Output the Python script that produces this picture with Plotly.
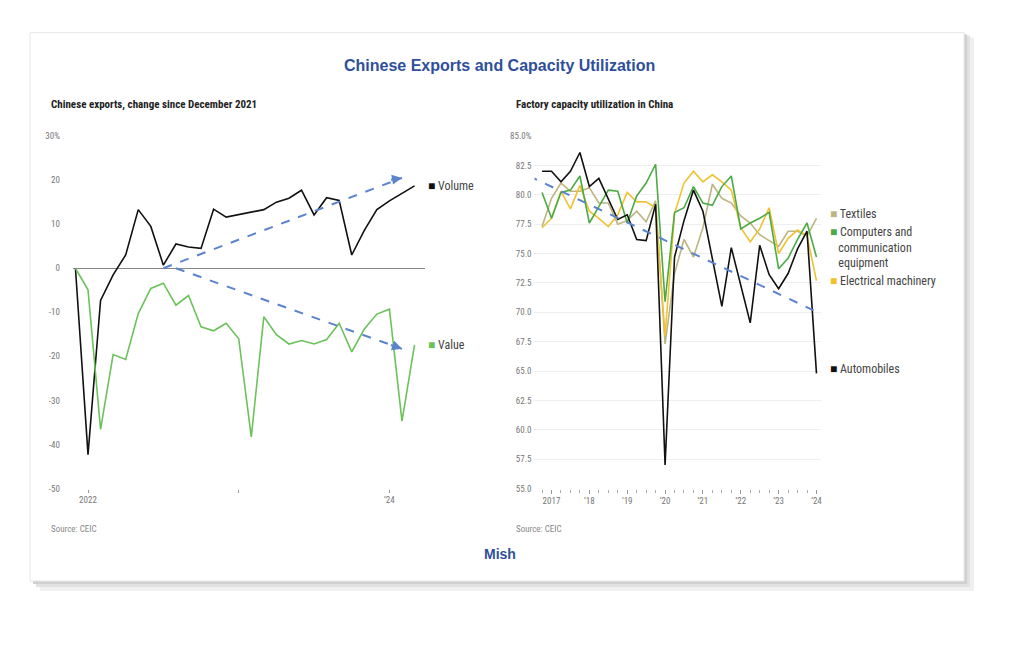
import plotly.graph_objects as go

months = list(range(28))
volume = [0, -42.3, -7.3, -1.5, 3, 13.3, 9.5, 0.7, 5.5, 4.8, 4.5, 13.4, 11.6, 12.2, 12.7, 13.3,
          15, 15.9, 17.7, 12.1, 16, 15.4, 3, 8.6, 13.3, 15.3, 17, 18.7]
value = [0, -4.9, -36.6, -19.6, -20.7, -10.3, -4.6, -3.4, -8.4, -6.2, -13.3, -14.2, -12.5, -16,
         -38.3, -11, -15.1, -17.2, -16.4, -17.2, -16.2, -12.5, -19, -13.8, -10.4, -9.3, -34.7, -17.4]
left_ticks = [1, 13, 25]
left_labels = ["2022", "", "’24"]

quarters = list(range(30))
autos = [82.0, 82.0, 81.1, 82.0, 83.6, 80.7, 81.4, 79.7, 77.9, 78.3, 76.2, 76.1, 79.2, 57.0, 74.7,
         77.8, 80.4, 78.6, 74.7, 70.5, 75.5, 72.4, 69.1, 75.7, 73.2, 72.0, 73.3, 75.4, 76.9, 64.8]
computers = [80.2, 78.0, 80.2, 80.4, 81.6, 77.6, 79.0, 80.4, 80.3, 77.6, 79.9, 81.0, 82.6, 70.9, 78.5,
             78.9, 80.7, 79.3, 79.1, 80.7, 81.6, 77.1, 77.6, 78.0, 78.5, 73.7, 74.6, 76.2, 77.6, 74.7]
electrical = [77.2, 78.0, 80.3, 78.8, 80.8, 78.6, 78.0, 77.3, 78.3, 80.2, 79.4, 79.4, 78.9, 68.0, 78.4,
              81.0, 82.0, 81.1, 81.7, 81.1, 80.4, 77.2, 76.0, 77.1, 78.9, 75.0, 76.3, 77.0, 76.5, 72.7]
textiles = [77.3, 79.7, 81.0, 80.3, 80.3, 80.6, 79.3, 79.3, 77.5, 77.8, 78.6, 77.7, 79.5, 67.3, 73.3,
            76.2, 74.7, 77.2, 80.9, 79.7, 79.3, 78.2, 77.6, 76.6, 76.1, 75.6, 76.9, 76.9, 76.5, 78.0]
right_ticks = [1, 5, 9, 13, 17, 21, 25, 29]
right_labels = ["2017", "’18", "’19", "’20", "’21", "’22", "’23", "’24"]

BLACK = "#111111"
GREEN_L = "#6cc25a"
GREEN = "#4caa45"
YELLOW = "#f0c232"
TAN = "#bdb483"
ARROW = "#5b84cc"

DX, DY = 8, 8  # page offset compensation
def px(x): return (x - DX) / 1024
def py(y): return 1 - (y - DY) / 645

fig = go.Figure()
fig.add_trace(go.Scatter(x=months, y=volume, mode="lines", line=dict(color=BLACK, width=1.6), xaxis="x", yaxis="y"))
fig.add_trace(go.Scatter(x=months, y=value, mode="lines", line=dict(color=GREEN_L, width=1.6), xaxis="x", yaxis="y"))
fig.add_trace(go.Scatter(x=[7, 26], y=[0, 20.5], mode="lines", line=dict(color=ARROW, width=2, dash="dash"), xaxis="x", yaxis="y"))
fig.add_trace(go.Scatter(x=[8, 26], y=[0, -18.3], mode="lines", line=dict(color=ARROW, width=2, dash="dash"), xaxis="x", yaxis="y"))
for ser, col in [(textiles, TAN), (electrical, YELLOW), (computers, GREEN), (autos, BLACK)]:
    fig.add_trace(go.Scatter(x=quarters, y=ser, mode="lines", line=dict(color=col, width=1.6), xaxis="x2", yaxis="y2"))
fig.add_trace(go.Scatter(x=[-1.4, 30.7], y=[81.6, 69.4], mode="lines", line=dict(color=ARROW, width=2, dash="dash"), xaxis="x2", yaxis="y2"))

tickfont = dict(family="Liberation Sans Narrow, Arial Narrow, Roboto Condensed, Liberation Sans", size=9, color="#777")
fig.update_layout(
    width=1024, height=645, margin=dict(l=0, r=0, t=0, b=0), showlegend=False,
    paper_bgcolor="white", plot_bgcolor="rgba(0,0,0,0)",
    xaxis=dict(domain=[px(73), px(425)], range=[-0.2, 27.8], tickvals=left_ticks, ticktext=left_labels,
               ticks="outside", ticklen=3, tickcolor="#999", showgrid=False, zeroline=False, tickfont=tickfont),
    yaxis=dict(domain=[py(491), py(133)], range=[-50, 30], tickvals=[-50, -40, -30, -20, -10, 0, 10, 20, 30],
               ticktext=["-50", "-40", "-30", "-20", "-10", "0", "10", "20", "30%"], showgrid=False,
               zeroline=True, zerolinecolor="#888", zerolinewidth=1, tickfont=tickfont, anchor="free", position=px(60)),
    xaxis2=dict(domain=[px(535), px(822)], range=[-0.8, 29.5], tickvals=right_ticks, ticktext=right_labels,
                ticks="outside", ticklen=4, tickcolor="#999", showgrid=False, zeroline=False, tickfont=tickfont,
                minor=dict(tickvals=quarters, ticks="outside", ticklen=3, tickcolor="#aaa"), anchor="y2"),
    yaxis2=dict(domain=[py(491), py(133)], range=[55, 85],
                tickvals=[55 + 2.5*i for i in range(13)],
                ticktext=[f"{55 + 2.5*i:.1f}" for i in range(12)] + ["85.0%"],
                showgrid=True, gridcolor="#eeeeee", zeroline=False, tickfont=tickfont, anchor="free", position=px(532)),
)

for off, col in [(10, "#f0f0f0"), (6, "#e2e2e2"), (3, "#d0d0d0")]:
    fig.add_shape(type="rect", xref="paper", yref="paper", x0=px(30+off), x1=px(965+off),
                  y0=py(585+off), y1=py(28+off/2), fillcolor=col, line_width=0, layer="below")
fig.add_shape(type="rect", xref="paper", yref="paper", x0=px(30), x1=px(965),
              y0=py(585), y1=py(28), fillcolor="white", line=dict(color="#e6e6e6", width=1), layer="below")

fig.add_annotation(x=26, y=20.5, ax=25, ay=20.0, xref="x", yref="y", axref="x", ayref="y", text="",
                   showarrow=True, arrowhead=2, arrowsize=1, arrowwidth=2, arrowcolor=ARROW)
fig.add_annotation(x=26, y=-18.3, ax=25, ay=-17.3, xref="x", yref="y", axref="x", ayref="y", text="",
                   showarrow=True, arrowhead=2, arrowsize=1, arrowwidth=2, arrowcolor=ARROW)
fig.add_annotation(x=30.7, y=69.4, ax=29.7, ay=69.8, xref="x2", yref="y2", axref="x2", ayref="y2", text="",
                   showarrow=True, arrowhead=2, arrowsize=1, arrowwidth=2, arrowcolor=ARROW)

NARROW = "Liberation Sans Narrow, Arial Narrow, Roboto Condensed, Liberation Sans"
lab = dict(family=NARROW, size=12, color="#444")
def txt(x, y, s, font, xa="left", ya="middle"):
    fig.add_annotation(x=px(x), y=py(y), xref="paper", yref="paper", text=s, showarrow=False,
                       xanchor=xa, yanchor=ya, font=font, align="left")

txt(500, 61, "<b>Chinese Exports and Capacity Utilization</b>",
    dict(family="Liberation Sans", size=16, color="#2f4f9a"), xa="center")
sub = dict(family=NARROW, size=11, color="#222")
txt(49, 101, "<b>Chinese exports, change since December 2021</b>", sub)
txt(514, 101, "<b>Factory capacity utilization in China</b>", sub)
txt(426, 184, f"<span style='color:{BLACK}'>■</span> Volume", lab)
txt(426, 345, f"<span style='color:{GREEN_L}'>■</span> Value", lab)
txt(829, 212, f"<span style='color:{TAN}'>■</span> Textiles", lab)
txt(829, 246, f"<span style='color:{GREEN}'>■</span> Computers and<br>   communication<br>   equipment", lab)
txt(829, 280, f"<span style='color:{YELLOW}'>■</span> Electrical machinery", lab)
txt(829, 370, f"<span style='color:{BLACK}'>■</span> Automobiles", lab)
src = dict(family=NARROW, size=9, color="#888")
txt(49, 532, "Source: CEIC", src)
txt(514, 532, "Source: CEIC", src)
txt(500, 558, "<b>Mish</b>", dict(family="Liberation Sans", size=14, color="#2f4f9a"), xa="center")

fig.write_html("out.html")
